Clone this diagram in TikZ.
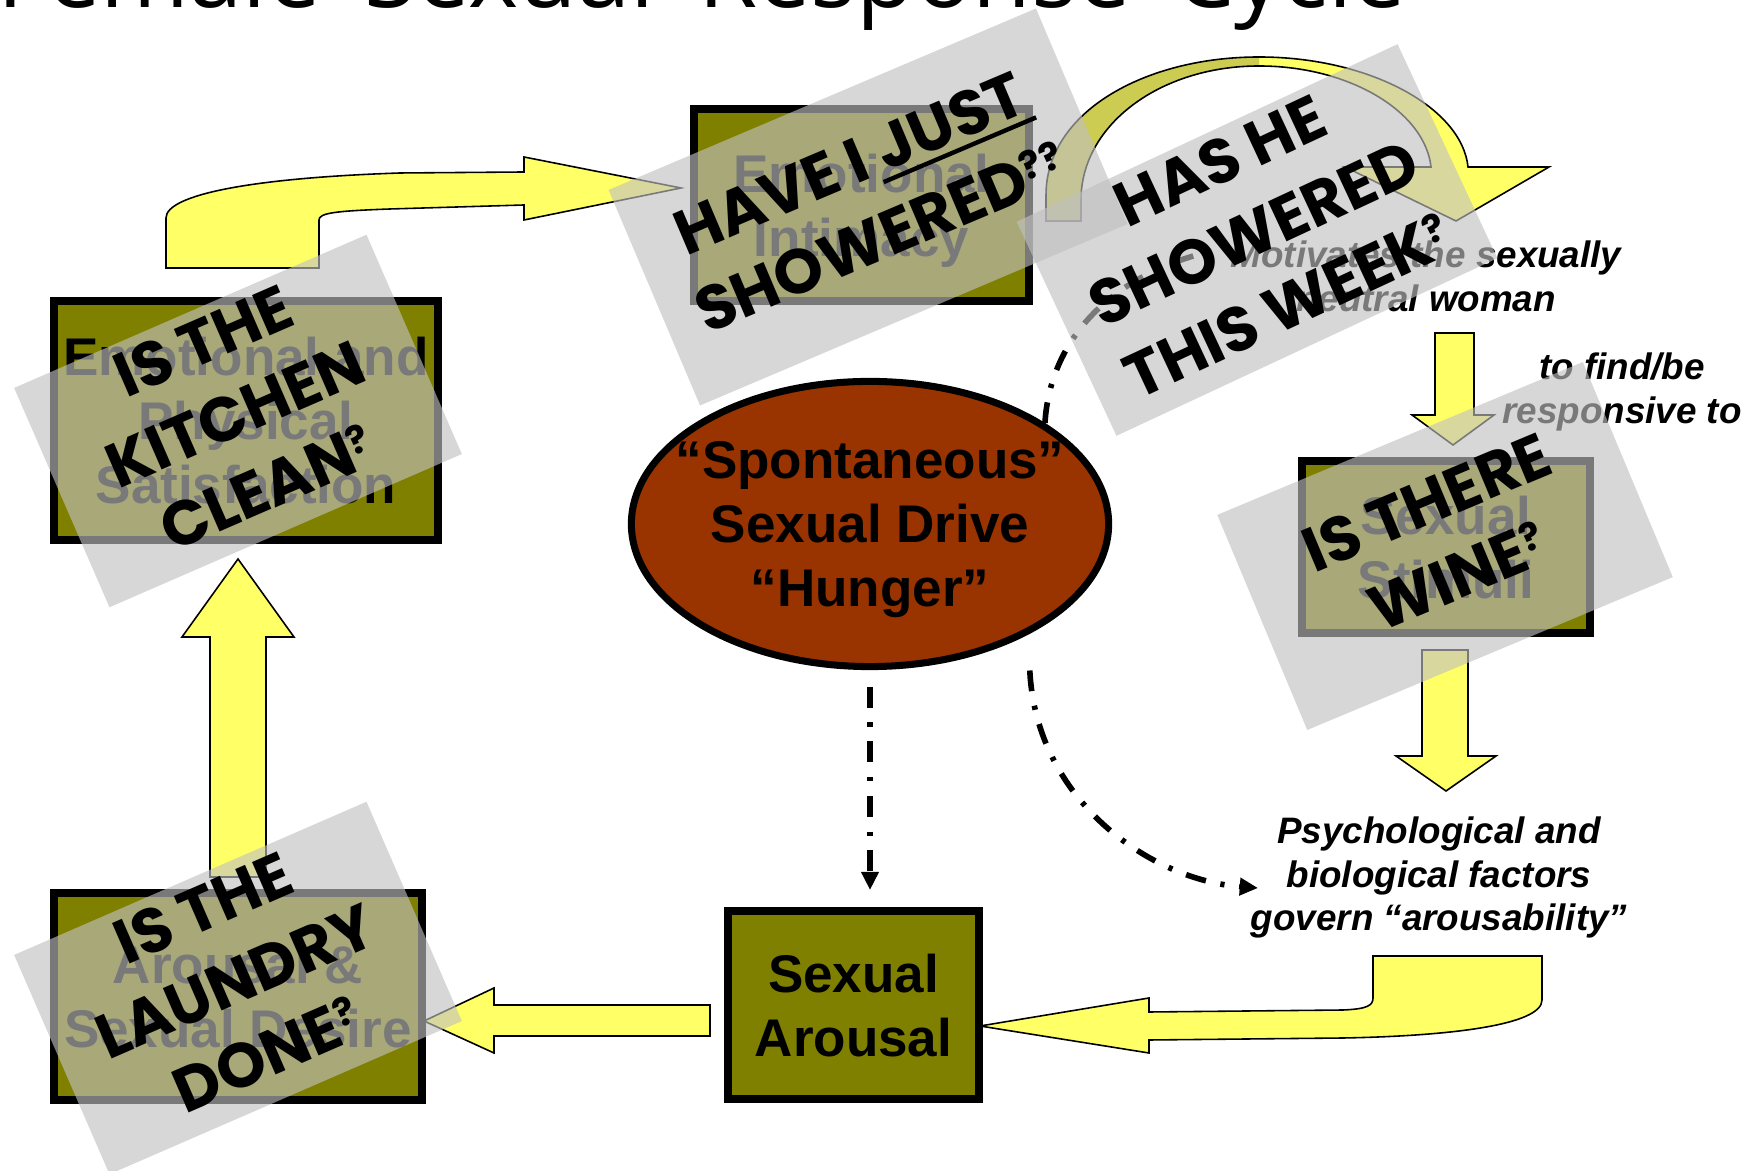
\documentclass[tikz,border=0pt]{standalone}
\usepackage{fontspec}
\usetikzlibrary{arrows.meta,shapes.geometric}
\setmainfont{Liberation Sans}
\newfontfamily\titlefont{Open Sans}[WordSpace=1.75]
\IfFontExistsTF{Poppins Bold}{\newfontfamily\stampfont{Poppins Bold}}{\newfontfamily\stampfont{Liberation Sans Bold}}

\definecolor{olivebox}{RGB}{128,128,0}
\definecolor{arrowyellow}{RGB}{255,255,102}
\definecolor{arrowshade}{RGB}{204,204,82}
\definecolor{drivebrown}{RGB}{153,51,0}
\definecolor{stampgray}{RGB}{192,192,192}

% strut that fixes the height and depth of the first and last lines of a label
\newcommand\capstrut{\rule[-0.242em]{0pt}{1.2em}}
\newcommand\qmark{\raisebox{0.26em}{\fontsize{11pt}{11pt}\selectfont ?}}
\newcommand\ulword[1]{\sbox0{#1}\rlap{\hspace{-0.1em}\rule[-0.17em]{\dimexpr\wd0+0.15em\relax}{0.07em}}\usebox0}

\tikzset{
  labeltext/.style={inner sep=0pt, align=center,
    execute at begin node=\capstrut, execute at end node=\capstrut},
  stagelabel/.style={labeltext, font=\bfseries\fontsize{15.08pt}{18.2pt}\selectfont},
  stagebox/.style={draw=black, line width=2.28pt, fill=olivebox, inner sep=0pt},
  notetext/.style={labeltext, yshift=-1.3pt,
    font=\bfseries\itshape\fontsize{10.47pt}{12.38pt}\selectfont},
  blockarrow/.style={fill=arrowyellow, draw=black, line width=0.45pt, line join=miter},
  stamp/.style={labeltext, fill=stampgray, fill opacity=0.63, text opacity=1,
    font=\stampfont\fontsize{17.85pt}{22.76pt}\selectfont},
  dashdot/.style={line width=1.6pt, dash pattern=on 5.9pt off 4.2pt on 1.2pt off 4.2pt},
  dashtip/.style={-{Triangle[length=5.2pt,width=4.8pt]}},
}

\begin{document}
\begin{tikzpicture}[x=0.01cm, y=-0.01cm]
\path[use as bounding box] (0,0) rectangle (1752,1171);
\clip (0,0) rectangle (1752,1171);
\fill[white] (0,0) rectangle (1752,1171);

% heading, cut by the top edge
\node[anchor=base west, inner sep=0pt, font=\titlefont\fontsize{27.2pt}{30pt}\selectfont]
  (title) at (-3,8) {Female Sexual Response Cycle};

% stages of the cycle: frame, then its label slightly below the centre
\node[stagebox, minimum width=3.35cm, minimum height=1.92cm] (intimacy) at (861.5,205) {};
\node[stagelabel] at ([yshift=-1.9pt]intimacy.center) {Emotional\\Intimacy};
\node[stagebox, minimum width=3.84cm, minimum height=2.39cm] (satisf) at (246,420.5) {};
\node[stagelabel] at ([yshift=-1.9pt]satisf.center) {Emotional and\\Physical\\Satisfaction};
\node[stagebox, minimum width=2.88cm, minimum height=1.72cm] (stimuli) at (1446,547) {};
\node[stagelabel] at ([yshift=-1.9pt]stimuli.center) {Sexual\\Stimuli};
\node[stagebox, minimum width=3.68cm, minimum height=2.07cm] (desire) at (238,996.5) {};
\node[stagelabel] at ([yshift=-1.9pt]desire.center) {Arousal \&\\Sexual Desire};
\node[stagebox, minimum width=2.51cm, minimum height=1.88cm] (sexar) at (853.5,1005) {};
\node[stagelabel] at ([yshift=-1.9pt]sexar.center) {Sexual\\Arousal};

\node[ellipse, draw=black, line width=2pt, fill=drivebrown, minimum width=4.77cm,
  minimum height=2.85cm, inner sep=0pt] (drive) at (870,524) {};
\node[stagelabel] (drivelabel) at ([yshift=-1.9pt]drive.center) {“Spontaneous”\\Sexual Drive\\“Hunger”};

% notes along the right side
\node[notetext] (motiv) at (1426,276) {Motivates the sexually\\neutral woman};
\node[notetext] (findbe) at (1622,388) {to find/be\\responsive to};
\node[notetext] (psych) at (1439,874) {Psychological and\\biological factors\\govern “arousability”};
\coordinate (ptip) at (1258,888);
\coordinate (mend) at (1212,251);

% block arrows of the cycle
\path[blockarrow] (166,268) -- (166,218) .. controls (166,195) and (250,178) .. (400,173)
  -- (524,172) -- (524,157) -- (681,188) -- (524,220) -- (524,205) -- (390,209)
  .. controls (335,211) and (319,213) .. (319,220) -- (319,268) -- cycle;
\path[blockarrow] (980,1026) -- (1149,998) -- (1149,1012) -- (1343,1010)
  .. controls (1366,1009) and (1373,1006) .. (1373,998) -- (1373,956) -- (1542,956)
  -- (1542,1000) .. controls (1542,1025) and (1450,1036) .. (1343,1038)
  -- (1149,1040) -- (1149,1053) -- cycle;
\path[blockarrow] (210,877) -- (210,637) -- (182,637) -- (238,559) -- (294,637)
  -- (266,637) -- (266,877) -- cycle;
\path[blockarrow] (710,1005) -- (494,1005) -- (494,988) -- (424,1021) -- (494,1053)
  -- (494,1036) -- (710,1036) -- cycle;
\path[blockarrow] (1435,333) -- (1474,333) -- (1474,415) -- (1494,415) -- (1453,445)
  -- (1412,415) -- (1435,415) -- cycle;
\path[blockarrow] (1422,650) -- (1468,650) -- (1468,756) -- (1496,756) -- (1446,791)
  -- (1396,756) -- (1422,756) -- cycle;

% curved arrow over the top, its rising half shaded
\fill[arrowyellow] (1046,221) -- (1046,195) .. controls (1046,112) and (1145,57) .. (1259,57)
  .. controls (1370,57) and (1462,108) .. (1468,167) -- (1549,167) -- (1456,221)
  -- (1345,167) -- (1431,167) .. controls (1425,112) and (1350,66) .. (1259,66)
  .. controls (1160,66) and (1081,125) .. (1081,200) -- (1081,221) -- cycle;
\fill[arrowshade] (1046,221) -- (1046,195) .. controls (1046,112) and (1145,57) .. (1259,57)
  -- (1259,66) .. controls (1160,66) and (1081,125) .. (1081,200) -- (1081,221) -- cycle;
\draw[line width=0.45pt, line join=miter] (1046,221) -- (1046,195) .. controls (1046,112) and (1145,57) .. (1259,57)
  .. controls (1370,57) and (1462,108) .. (1468,167) -- (1549,167) -- (1456,221)
  -- (1345,167) -- (1431,167) .. controls (1425,112) and (1350,66) .. (1259,66)
  .. controls (1160,66) and (1081,125) .. (1081,200) -- (1081,221) -- cycle;

% dash-dot links from the drive
\draw[dashdot, dashtip, shorten <=4.8pt, shorten >=4.8pt] (drive.south) -- (drive.south |- sexar.north);
\draw[dashdot, dashtip, shorten <=10.2pt] (drive.-35) .. controls (1036,800) and (1150,880) .. (ptip);
\draw[dashdot] (drive.30) .. controls (1050,340) and (1110,275) .. (mend);

% stamped questions laid over the chart
\node[stamp, rotate=23, minimum width=4.64cm, minimum height=2.34cm] (qa) at (868,207)
  {HAVE I \ulword{JUST}\\SHOWERED\qmark\qmark};
\node[stamp, rotate=25, minimum width=4.20cm, minimum height=2.36cm] (qb) at (1257,240)
  {HAS HE\\SHOWERED\\THIS WEEK\qmark};
\node[stamp, rotate=23.5, minimum width=3.84cm, minimum height=2.39cm] (qc) at (238,421)
  {IS THE\\KITCHEN\\CLEAN\qmark};
\node[stamp, rotate=23.5, minimum width=3.84cm, minimum height=2.39cm] (qd) at (238,988)
  {IS THE\\LAUNDRY\\DONE\qmark};
\node[stamp, rotate=22.7, minimum width=3.96cm, minimum height=2.33cm] (qe) at (1445,546)
  {IS THERE\\WINE\qmark};
\end{tikzpicture}
\end{document}
